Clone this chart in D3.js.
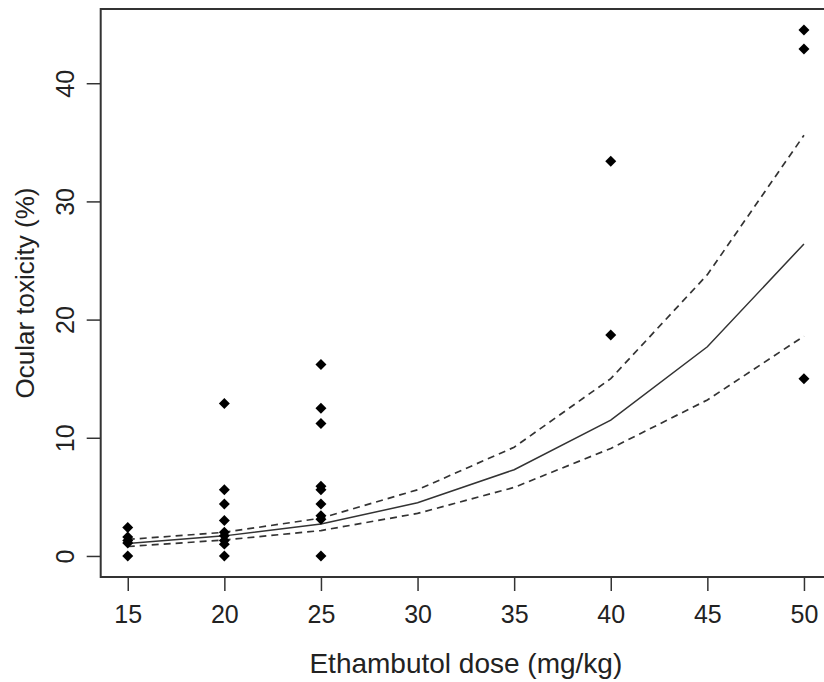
<!DOCTYPE html>
<html>
<head>
<meta charset="utf-8">
<script src="https://cdn.jsdelivr.net/npm/d3@7"></script>
<style>
  html, body { margin: 0; padding: 0; background: #fff; overflow: hidden; }
  text { font-family: "Liberation Sans", Arial, sans-serif; fill: #222; }
</style>
</head>
<body>
<div id="chart"></div>
<script>
// observed toxicity per study arm
var obsDose = [15, 15, 15, 15, 15,
               20, 20, 20, 20, 20, 20, 20, 20, 20,
               25, 25, 25, 25, 25, 25, 25, 25, 25,
               40, 40,
               50, 50, 50];
var obsTox = [2.4, 1.6, 1.3, 1.1, 0,
              12.9, 5.6, 4.4, 3.0, 2.0, 1.7, 1.3, 1.0, 0,
              16.2, 12.5, 11.2, 5.9, 5.6, 4.4, 3.4, 3.1, 0,
              33.4, 18.7,
              44.5, 42.9, 15.0];

// fitted curve and confidence band
var fitDose = [15, 20, 25, 30, 35, 40, 45, 50];
var fitMid = [1.05, 1.7, 2.7, 4.5, 7.3, 11.5, 17.7, 26.4];
var fitUpper = [1.4, 2.0, 3.2, 5.6, 9.2, 15.0, 23.8, 35.6];
var fitLower = [0.8, 1.35, 2.15, 3.6, 5.8, 9.1, 13.2, 18.6];

var xTicks = [15, 20, 25, 30, 35, 40, 45, 50];
var yTicks = [0, 10, 20, 30, 40];

var margin = {top: 9, left: 100.7},
    width = 730.3,
    height = 568;

var svg = d3.select("#chart").append("svg")
    .attr("width", 860)
    .attr("height", 682);

// R style 4% padding on the data range
var xExt = d3.extent(obsDose), yExt = d3.extent(obsTox);
var xPad = (xExt[1] - xExt[0]) * 0.04, yPad = (yExt[1] - yExt[0]) * 0.04;

var x = d3.scaleLinear()
    .domain([xExt[0] - xPad, xExt[1] + xPad])
    .range([margin.left, margin.left + width]);
var y = d3.scaleLinear()
    .domain([yExt[0] - yPad, yExt[1] + yPad])
    .range([margin.top + height, margin.top]);

// box
svg.append("rect")
    .attr("x", margin.left)
    .attr("y", margin.top)
    .attr("width", width)
    .attr("height", height)
    .attr("fill", "none")
    .attr("stroke", "#333")
    .attr("stroke-width", 2);

var gx = svg.append("g")
    .attr("transform", "translate(0," + (margin.top + height) + ")")
    .call(d3.axisBottom(x).tickValues(xTicks).tickSize(14).tickPadding(14).tickFormat(d3.format("d")));
gx.select(".domain").remove();
gx.selectAll("line").attr("stroke", "#333").attr("stroke-width", 1.5);
gx.selectAll("text").style("font-size", "25px").attr("fill", "#222");

var gy = svg.append("g")
    .attr("transform", "translate(" + margin.left + ",0)")
    .call(d3.axisLeft(y).tickValues(yTicks).tickSize(14).tickFormat(d3.format("d")));
gy.select(".domain").remove();
gy.selectAll("line").attr("stroke", "#333").attr("stroke-width", 1.5);
gy.selectAll("text")
    .style("font-size", "25px")
    .attr("fill", "#222")
    .attr("text-anchor", "middle")
    .attr("x", null)
    .attr("transform", "translate(-35,0) rotate(-90)")
    .attr("y", 0)
    .attr("dy", "0.35em");

svg.append("text")
    .attr("x", margin.left + width / 2)
    .attr("y", 673)
    .attr("text-anchor", "middle")
    .style("font-size", "28px")
    .text("Ethambutol dose (mg/kg)");

svg.append("text")
    .attr("transform", "translate(34," + (margin.top + height / 2) + ") rotate(-90)")
    .attr("text-anchor", "middle")
    .style("font-size", "26px")
    .text("Ocular toxicity (%)");

var line = function(vals) {
  return d3.line()
    .x(function(d, i) { return x(fitDose[i]); })
    .y(function(d) { return y(d); })(vals);
};

svg.append("path")
    .attr("d", line(fitMid))
    .attr("fill", "none")
    .attr("stroke", "#333")
    .attr("stroke-width", 1.5);

[fitUpper, fitLower].forEach(function(v) {
  svg.append("path")
      .attr("d", line(v))
      .attr("fill", "none")
      .attr("stroke", "#333")
      .attr("stroke-width", 1.7)
      .attr("stroke-dasharray", "7,5");
});

svg.selectAll(".point")
    .data(obsTox)
    .enter().append("path")
    .attr("class", "point")
    .attr("d", d3.symbol().type(d3.symbolSquare).size(60))
    .attr("transform", function(d, i) {
      return "translate(" + x(obsDose[i]) + "," + y(d) + ") rotate(45)";
    })
    .attr("fill", "#000");
</script>
</body>
</html>
